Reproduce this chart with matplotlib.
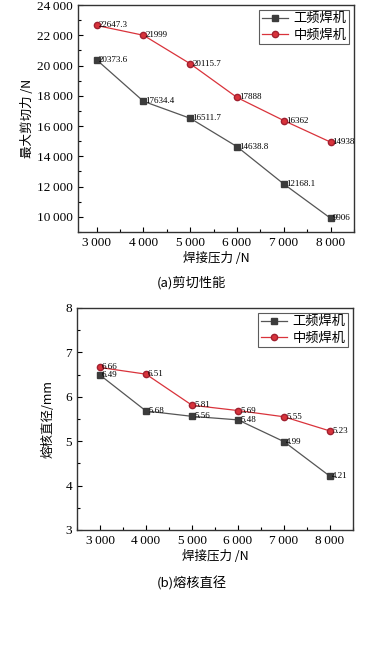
import matplotlib
matplotlib.use("Agg")
import matplotlib.pyplot as plt
from matplotlib.ticker import MultipleLocator, FuncFormatter

pressure = [3000, 4000, 5000, 6000, 7000, 8000]
shear_gp = [20373.6, 17634.4, 16511.7, 14638.8, 12168.1, 9906]
shear_zp = [22647.3, 21999, 20115.7, 17888, 16362, 14938]
shear_gp_lbl = ["20373.6", "17634.4", "16511.7", "14638.8", "12168.1", "9906"]
shear_zp_lbl = ["22647.3", "21999", "20115.7", "17888", "16362", "14938"]
nug_gp = [6.49, 5.68, 5.56, 5.48, 4.99, 4.21]
nug_zp = [6.66, 6.51, 5.81, 5.69, 5.55, 5.23]
series_names = ["工频焊机", "中频焊机"]

SERIF = ["Liberation Serif", "Noto Sans CJK SC"]
CJK = ["Noto Sans CJK SC", "Liberation Serif"]
plt.rcParams['font.family'] = SERIF

fig = plt.figure(figsize=(3.83, 6.64), dpi=100)
W, H = 383, 664

def thou(v, pos):
    v = int(round(v))
    if v >= 1000:
        return f"{v // 1000}\u2009{v % 1000:03d}"
    return str(v)

def style(ax):
    ax.tick_params(direction='in', which='both', labelsize=9.5, width=0.8)
    ax.tick_params(which='major', length=3.5)
    ax.tick_params(which='minor', length=2)
    for s in ax.spines.values():
        s.set_linewidth(1.0)
        s.set_color('#333333')
    for lab in ax.get_xticklabels() + ax.get_yticklabels():
        lab.set_family(SERIF)

c_gp = '#3c3c3c'
c_zp = '#d9333b'

def legend(ax):
    leg = ax.legend(loc='upper right', prop={'family': CJK, 'size': 9.5},
                    frameon=True, fancybox=False, edgecolor='#333333',
                    borderpad=0.2, handlelength=2.0, handletextpad=0.4,
                    labelspacing=0.25, borderaxespad=0.35)
    leg.get_frame().set_linewidth(0.8)

# Top chart
ax1 = fig.add_axes([78 / W, 1 - 232 / H, (354 - 78) / W, (232 - 5) / H])
ax1.plot(pressure, shear_gp, color='#555555', lw=0.9, marker='s', ms=3.8,
         mfc=c_gp, mec=c_gp, label=series_names[0])
ax1.plot(pressure, shear_zp, color=c_zp, lw=0.9, marker='o', ms=4.5,
         mfc=c_zp, mec='#a02030', label=series_names[1])
for x, y, t in zip(pressure, shear_gp, shear_gp_lbl):
    ax1.annotate(t, (x, y), xytext=(1.5, 0), textcoords='offset points',
                 fontsize=6.5, va='center', ha='left', family=SERIF)
for x, y, t in zip(pressure, shear_zp, shear_zp_lbl):
    ax1.annotate(t, (x, y), xytext=(1.5, 0), textcoords='offset points',
                 fontsize=6.5, va='center', ha='left', family=SERIF)
ax1.set_xlim(2600, 8500)
ax1.set_ylim(9000, 24000)
ax1.xaxis.set_major_locator(MultipleLocator(1000))
ax1.xaxis.set_minor_locator(MultipleLocator(500))
ax1.yaxis.set_major_locator(MultipleLocator(2000))
ax1.yaxis.set_minor_locator(MultipleLocator(1000))
ax1.xaxis.set_major_formatter(FuncFormatter(thou))
ax1.yaxis.set_major_formatter(FuncFormatter(thou))
style(ax1)
ax1.set_ylim(9000, 24000)
ax1.set_xlabel("焊接压力 /N", family=CJK, fontsize=9, labelpad=2)
ax1.set_ylabel("最大剪切力 /N", family=CJK, fontsize=9, labelpad=2)
legend(ax1)
fig.text(0.5, 1 - 283 / H, "(a)剪切性能", ha='center', va='center',
         family=CJK, fontsize=9.5)

# Bottom chart
ax2 = fig.add_axes([77 / W, 1 - 530 / H, (353 - 77) / W, (530 - 308) / H])
ax2.plot(pressure, nug_gp, color='#555555', lw=0.9, marker='s', ms=3.8,
         mfc=c_gp, mec=c_gp, label=series_names[0])
ax2.plot(pressure, nug_zp, color=c_zp, lw=0.9, marker='o', ms=4.5,
         mfc=c_zp, mec='#a02030', label=series_names[1])
for x, y in zip(pressure, nug_gp):
    ax2.annotate(f"{y:.2f}", (x, y), xytext=(1.5, 0), textcoords='offset points',
                 fontsize=6.5, va='center', ha='left', family=SERIF)
for x, y in zip(pressure, nug_zp):
    ax2.annotate(f"{y:.2f}", (x, y), xytext=(1.5, 0), textcoords='offset points',
                 fontsize=6.5, va='center', ha='left', family=SERIF)
ax2.set_xlim(2500, 8500)
ax2.set_ylim(3, 8)
ax2.xaxis.set_major_locator(MultipleLocator(1000))
ax2.xaxis.set_minor_locator(MultipleLocator(500))
ax2.yaxis.set_major_locator(MultipleLocator(1))
ax2.yaxis.set_minor_locator(MultipleLocator(0.5))
ax2.xaxis.set_major_formatter(FuncFormatter(thou))
style(ax2)
ax2.set_xlabel("焊接压力 /N", family=CJK, fontsize=9, labelpad=2)
ax2.set_ylabel("熔核直径/mm", family=CJK, fontsize=9, labelpad=8)
legend(ax2)
fig.text(0.5, 1 - 583 / H, "(b)熔核直径", ha='center', va='center',
         family=CJK, fontsize=9.5)

fig.savefig("out.png", dpi=100)
